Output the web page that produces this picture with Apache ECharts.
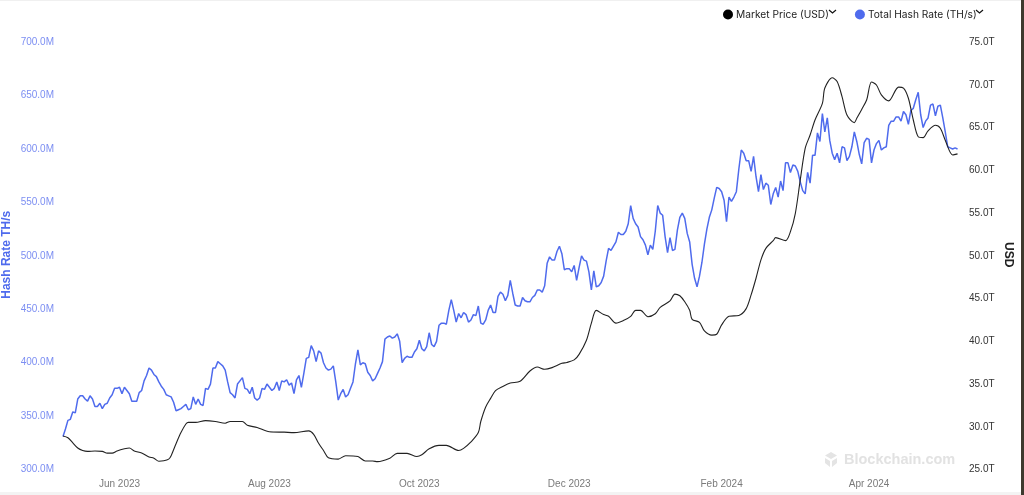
<!DOCTYPE html>
<html>
<head>
<meta charset="utf-8">
<style>
html, body { margin: 0; padding: 0; background: #fff; }
#main { width: 1024px; height: 495px; }
</style>
<script src="https://cdn.jsdelivr.net/npm/echarts@6/dist/echarts.min.js"></script>
</head>
<body>
<div id="main"></div>
<script>
var startDate = '2023-05-09';
var endDate = '2024-05-08';
var tickDates = ['2023-06-01', '2023-08-01', '2023-10-01', '2023-12-01', '2024-02-01', '2024-04-01'];

// daily, TH/s in millions
var hashRate = [
  330,337,345,346,353,352,365,368,368,365,363,368,365,358,358,361,356,360,361,366,
  369,375,375,376,370,376,373,370,363,363,363,371,373,382,387,394,392,388,386,381,
  377,374,369,368,367,362,354,355,356,358,360,355,356,367,360,365,360,359,375,374,
  379,394,394,400,398,396,392,381,371,369,366,379,382,385,375,374,370,376,366,364,
  366,375,374,379,376,373,375,381,373,382,381,383,378,380,370,383,387,376,389,403,
  404,415,410,400,410,408,399,394,392,393,396,381,364,370,
  374,367,369,375,381,398,411,397,399,398,390,387,382,384,389,394,400,421,423,424,
  422,423,426,419,399,403,405,404,404,409,412,420,412,410,414,427,416,414,419,434,
  436,436,435,448,458,448,437,445,441,446,444,437,439,444,443,452,436,435,439,448,
  453,446,446,461,465,463,457,462,476,464,453,452,452,460,457,456,456,460,462,467,
  467,465,471,492,498,495,495,503,508,501,486,487,487,484,490,476,488,499,495,494,
  484,467,485,470,471,474,480,494,506,504,508,512,521,519,519,522,529,546,534,529,
  526,517,514,509,500,509,505,522,546,539,537,517,502,516,504,505,523,535,
  539,534,520,512,491,478,470,480,493,510,524,535,542,553,563,562,559,551,531,554,
  550,554,559,580,598,595,588,588,578,592,573,559,575,561,567,565,547,557,563,554,
  569,560,586,586,577,584,583,578,568,560,557,577,567,593,593,614,606,632,615,628,
  607,595,589,595,586,601,600,588,592,601,615,606,594,585,605,609,608,586,598,604,
  607,598,600,601,621,625,625,629,629,625,634,631,622,635,637,645,652,631,619,625,
  628,640,641,630,639,640,628,615,601,600,599,600,599
];

// sampled every few days, USD trillions
var priceDays = [
  0,2,4,6,8,10,13,16,18,20,22,25,27,29,32,35,37,39,41,43,44,46,48,50,51,54,58,62,66,68,
  73,75,79,84,90,94,100,102,104,106,108,112,115,120,123,126,128,133,136,140,144,146,149,153,156,161,163,166,169,170,
  172,174,176,179,182,186,190,193,196,199,203,205,208,210,213,215,217,220,222,225,228,231,233,235,238,241,243,247,249,251,
  253,255,256,259,261,264,266,268,271,275,278,280,282,284,286,289,290,294,296,298,300,302,304,306,309,310,313,315,317,319,
  322,323,325,327,329,331,333,336,340,342,344,346,348,350,352,355,357,359,362,364
];
var priceValues = [
  28.8,28.6,28.0,27.4,27.1,27.0,27.05,27.0,26.8,26.8,27.05,27.3,27.4,27.05,26.8,26.35,26.2,25.85,25.9,26.1,26.5,27.9,29.2,30.2,30.4,30.4,30.6,30.5,30.3,30.5,
  30.5,30.05,29.8,29.3,29.25,29.2,29.4,29.0,27.95,27.1,26.25,26.1,26.5,26.4,25.87,25.87,25.8,26.2,26.77,26.77,26.4,26.6,27.3,27.7,27.7,27.1,27.35,28.1,29.2,30.5,
  32.2,33.2,34.1,34.6,35.0,35.2,36.4,36.87,36.6,36.8,37.3,37.4,37.7,38.35,40.0,42.0,43.5,43.0,42.8,42.0,42.3,42.8,43.5,43.5,42.75,43.1,43.85,44.6,45.4,45.2,
  44.5,43.5,42.45,42.1,41.1,40.6,40.7,41.8,42.8,42.9,43.7,45.3,47.25,49.4,50.75,51.65,52.0,51.65,52.7,54.85,58.75,62.45,64.0,65.76,67.7,69.5,70.7,70.25,68.5,66.35,
  65.45,65.96,67.0,68.1,70.2,69.85,68.7,68.0,69.6,69.5,68.3,65.76,63.8,63.7,64.5,65.14,64.8,63.4,61.67,61.8
];

var dayMs = 24 * 3600 * 1000;
var startTime = new Date(startDate + 'T00:00:00').getTime();

function dayToTime(d) {
    return startTime + d * dayMs;
}

var hashData = hashRate.map(function (v, i) { return [dayToTime(i), v]; });
var priceData = priceValues.map(function (v, i) { return [dayToTime(priceDays[i]), v]; });

var chartDom = document.getElementById('main');
var myChart = echarts.init(chartDom);
var monthNames = ['Jan','Feb','Mar','Apr','May','Jun','Jul','Aug','Sep','Oct','Nov','Dec'];
var blue = '#4f6bed';
var labelFont = '"Liberation Sans", Arial, sans-serif';

var option = {
    animation: false,
    backgroundColor: '#fff',
    grid: { left: 63, right: 64, top: 41, bottom: 26.5, outerBoundsMode: 'none' },
    legend: {
        top: 4.5,
        left: 718,
        itemGap: 26,
        itemWidth: 10,
        itemHeight: 10,
        icon: 'circle',
        textStyle: { fontFamily: 'Inter, sans-serif', fontSize: 10.2, color: '#222', padding: [0, 0, 0, -2] },
        selectedMode: false,
        data: ['Market Price (USD)', 'Total Hash Rate (TH/s)']
    },
    xAxis: {
        // plain value axis holding ms, customValues does not work on type time here
        type: 'value',
        min: startTime,
        max: new Date(endDate + 'T00:00:00').getTime(),
        axisLine: { show: false },
        axisTick: { show: false },
        splitLine: { show: false },
        axisLabel: {
            customValues: tickDates.map(function (d) { return new Date(d + 'T00:00:00').getTime(); }),
            color: '#7a7a7a',
            fontFamily: labelFont,
            fontSize: 10,
            margin: 11,
            hideOverlap: false,
            formatter: function (v) {
                var d = new Date(v);
                return monthNames[d.getMonth()] + ' ' + d.getFullYear();
            }
        }
    },
    yAxis: [
        {
            type: 'value',
            position: 'left',
            min: 300,
            max: 700,
            interval: 50,
            name: 'Hash Rate TH/s',
            nameLocation: 'middle',
            nameGap: 50,
            nameMoveOverlap: false,
            nameTextStyle: { color: blue, fontFamily: labelFont, fontWeight: 'bold', fontSize: 12 },
            axisLine: { show: false },
            axisTick: { show: false },
            splitLine: { show: false },
            axisLabel: {
                fontFamily: labelFont,
                fontSize: 10,
                margin: 9,
                rich: { a: { color: '#7d8ff2', fontFamily: labelFont, fontSize: 10, padding: [2, 0, 0, 0] } },
                formatter: function (v) { return '{a|' + v.toFixed(1) + 'M}'; }
            }
        },
        {
            type: 'value',
            position: 'right',
            min: 25,
            max: 75,
            interval: 5,
            name: 'USD',
            nameLocation: 'middle',
            nameGap: 42,
            nameRotate: -90,
            nameMoveOverlap: false,
            nameTextStyle: { color: '#222', fontFamily: labelFont, fontWeight: 'bold', fontSize: 12 },
            axisLine: { show: false },
            axisTick: { show: false },
            splitLine: { show: false },
            axisLabel: {
                fontFamily: labelFont,
                fontSize: 10,
                margin: 9,
                rich: { a: { color: '#333', fontFamily: labelFont, fontSize: 10, padding: [2, 0, 0, 0] } },
                formatter: function (v) { return '{a|' + v.toFixed(1) + 'T}'; }
            }
        }
    ],
    series: [
        {
            name: 'Market Price (USD)',
            type: 'line',
            yAxisIndex: 1,
            data: priceData,
            showSymbol: false,
            smooth: 0.3,
            itemStyle: { color: '#000' },
            lineStyle: { color: '#222', width: 1.1 },
            z: 3
        },
        {
            name: 'Total Hash Rate (TH/s)',
            type: 'line',
            yAxisIndex: 0,
            data: hashData,
            showSymbol: false,
            itemStyle: { color: blue },
            lineStyle: { color: blue, width: 1.5 },
            z: 2
        }
    ],
    graphic: [
        // legend chevrons
        { type: 'polyline', shape: { points: [[829, 10], [832.5, 13], [836, 10]] }, style: { stroke: '#111', fill: null, lineWidth: 1.2 } },
        { type: 'polyline', shape: { points: [[976, 10], [979.5, 13], [983, 10]] }, style: { stroke: '#111', fill: null, lineWidth: 1.2 } },
        // watermark
        { type: 'polygon', shape: { points: [[831, 452], [837, 455.5], [831, 459], [825, 455.5]] }, style: { fill: '#e4e4e4' } },
        { type: 'polygon', shape: { points: [[825, 458], [830, 461], [830, 467], [825, 463]] }, style: { fill: '#e4e4e4' } },
        { type: 'polygon', shape: { points: [[837, 458], [832, 461], [832, 467], [837, 463]] }, style: { fill: '#e4e4e4' } },
        { type: 'text', left: 844, top: 452, style: { text: 'Blockchain.com', fill: '#e2e2e2', font: 'bold 14.5px "Liberation Sans", Arial, sans-serif' } },
        // screenshot edges
        { type: 'rect', shape: { x: 0, y: 492, width: 1024, height: 3 }, style: { fill: '#f3f3f3' } },
        { type: 'rect', shape: { x: 0, y: 0, width: 1024, height: 1 }, style: { fill: '#f0f0f0' } },
        { type: 'rect', shape: { x: 1021, y: 0, width: 3, height: 495 }, style: { fill: '#3d3a2e' } }
    ]
};

myChart.setOption(option);
</script>
</body>
</html>
